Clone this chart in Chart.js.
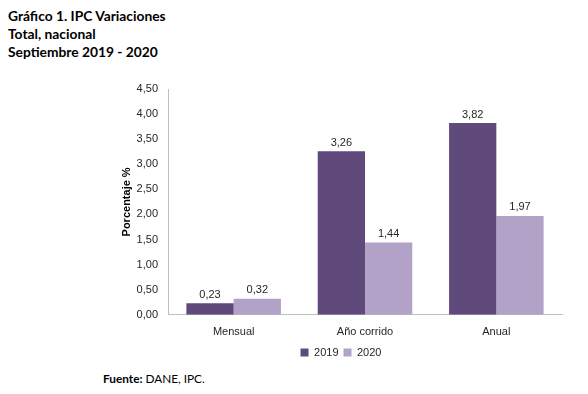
<!DOCTYPE html>
<html lang="es">
<head>
<meta charset="utf-8">
<title>IPC Variaciones</title>
<script src="https://cdn.jsdelivr.net/npm/chart.js"></script>
<style>
  body { margin: 0; background: #fff; width: 588px; height: 394px; position: relative; overflow: hidden; }
  .titulo { position: absolute; left: 8px; top: 7px; font-family: Lato, "Open Sans", sans-serif; font-weight: bold; font-size: 13.8px; line-height: 18px; color: #000; }
  .fuente { position: absolute; left: 103px; top: 371px; font-family: Lato, "Open Sans", sans-serif; font-size: 11.8px; color: #000; }
  .fuente b { font-weight: bold; }
  #wrap { position: absolute; left: 100px; top: 75px; width: 480px; height: 293px; }
</style>
</head>
<body>
<div class="titulo">Gráfico 1. IPC Variaciones<br>Total, nacional<br>Septiembre 2019 - 2020</div>
<div id="wrap"><canvas id="grafico"></canvas></div>
<div class="fuente"><b>Fuente:</b> DANE, IPC.</div>

<script>
// datos
const categorias = ['Mensual', 'Año corrido', 'Anual'];
const serie2019 = [0.23, 3.26, 3.82];
const serie2020 = [0.32, 1.44, 1.97];
const ejeMax = 4.5;
const ejePaso = 0.5;

function coma(v) {
  return v.toFixed(2).replace('.', ',');
}

// etiquetas de valor encima de cada barra
const etiquetas = {
  id: 'etiquetas',
  afterDatasetsDraw(chart) {
    const ctx = chart.ctx;
    ctx.save();
    ctx.font = '11px "Liberation Sans", Arial, sans-serif';
    ctx.fillStyle = '#262626';
    ctx.textAlign = 'center';
    ctx.textBaseline = 'bottom';
    chart.data.datasets.forEach((ds, i) => {
      chart.getDatasetMeta(i).data.forEach((bar, j) => {
        ctx.fillText(coma(ds.data[j]), bar.x, bar.y - 3);
      });
    });
    ctx.restore();
  }
};

new Chart(document.getElementById('grafico'), {
  type: 'bar',
  data: {
    labels: categorias,
    datasets: [
      { label: '2019', data: serie2019, backgroundColor: '#604a7b' },
      { label: '2020', data: serie2020, backgroundColor: '#b3a2c7' }
    ]
  },
  options: {
    responsive: true,
    maintainAspectRatio: false,
    animation: false,
    layout: { padding: { top: 14, right: 18, bottom: 0, left: 20 } },
    datasets: { bar: { categoryPercentage: 0.72, barPercentage: 1.0 } },
    plugins: {
      legend: {
        position: 'bottom',
        labels: {
          boxWidth: 8, boxHeight: 8, padding: 5,
          color: '#262626',
          font: { family: '"Liberation Sans", Arial, sans-serif', size: 11 }
        }
      },
      tooltip: { enabled: false }
    },
    scales: {
      x: {
        grid: { display: false },
        border: { display: true, color: '#bfbfbf' },
        ticks: {
          color: '#262626', padding: 3,
          font: { family: '"Liberation Sans", Arial, sans-serif', size: 11 }
        }
      },
      y: {
        min: 0, max: ejeMax,
        grid: { display: false },
        border: { display: true, color: '#bfbfbf' },
        ticks: {
          stepSize: ejePaso, padding: 2,
          color: '#262626',
          font: { family: '"Liberation Sans", Arial, sans-serif', size: 11 },
          callback: v => coma(v)
        },
        title: {
          display: true, text: 'Porcentaje %', color: '#000',
          font: { family: '"Liberation Sans", Arial, sans-serif', size: 11, weight: 'bold' },
          padding: { top: 0, bottom: 2 }
        },
        afterFit(scale) { scale.width = 48; }
      }
    }
  },
  plugins: [etiquetas]
});
</script>
</body>
</html>
